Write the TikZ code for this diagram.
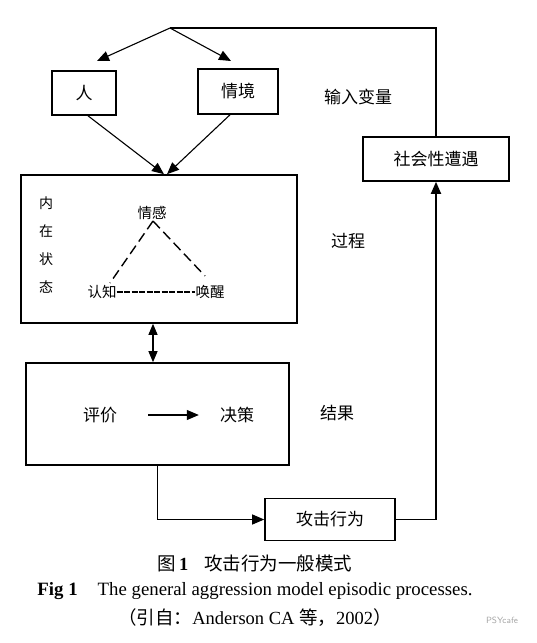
\documentclass[tikz,border=0pt]{standalone}
\usepackage{fontspec}
\setmainfont{Liberation Serif}
\newfontfamily\cjk{Noto Sans CJK SC}
\usetikzlibrary{arrows.meta,calc}

\begin{document}
\begin{tikzpicture}[x=1pt,y=-1pt,
  box/.style={draw,line width=1.6pt,inner sep=0pt,font=\cjk\fontsize{17}{17}\selectfont},
  lbl/.style={inner sep=0pt,font=\cjk\fontsize{17}{17}\selectfont},
  small/.style={inner sep=0pt,font=\cjk\fontsize{14.5}{14.5}\selectfont},
  arr/.style={line width=1.1pt,-{Triangle[length=12pt,width=10pt]}},
  both/.style={line width=1.1pt,{Triangle[length=11pt,width=9pt]}-{Triangle[length=11pt,width=9pt]}},
  tri/.style={line width=1.4pt,dash pattern=on 10pt off 5pt},
  dots/.style={line width=2pt,dash pattern=on 6pt off 1.5pt}]
\useasboundingbox (0,0) rectangle (537,643);

% input variables
\coordinate (fen) at (170,28);
\coordinate (renin) at (97,61);
\coordinate (qjin) at (231,61);
\node[box,minimum width=64pt,minimum height=44pt] (ren) at (84,93) {人};
\node[box,minimum width=80pt,minimum height=45pt] (qingjing) at (238,91.5) {情境};
\node[lbl] (shuru) at (358,97) {输入变量};
\node[box,minimum width=146pt,minimum height=44pt] (shehui) at (436,159) {社会性遭遇};

% process
\node[box,minimum width=276pt,minimum height=148pt] (neizai) at (159,249) {};
\node[small,align=center,font=\cjk\fontsize{14}{28}\selectfont] (zhuangtai) at (46,245) {内\\在\\状\\态};
\node[small] (qinggan) at (152,213) {情感};
\node[small] (renzhi) at (102,292) {认知};
\node[small] (huanxing) at (210,292) {唤醒};
\coordinate (tq) at (153,221);
\coordinate (tr) at (110,283);
\coordinate (th) at (205,276);
\node[lbl] (guocheng) at (348,241) {过程};

% outcomes
\node[box,minimum width=263pt,minimum height=102pt] (jieguo) at (157.5,414) {};
\node[lbl] (pingjia) at (100,415) {评价};
\node[lbl] (juece) at (237,415) {决策};
\node[lbl] (jg) at (337,413) {结果};
\node[box,minimum width=130pt,minimum height=42pt] (gongji) at (330,519.5) {攻击行为};

\draw[line width=1.3pt] (fen) -| (shehui.north);
\draw[arr] (fen) -- (renin);
\draw[arr] (fen) -- (qjin);
\draw[arr] ([xshift=4pt]ren.south) -- ([xshift=5pt]neizai.north);
\draw[arr] ([xshift=-8pt]qingjing.south) -- ([xshift=8pt]neizai.north);
\draw[tri] (tq) -- (tr);
\draw[tri] (tq) -- (th);
\draw[dots] (renzhi.east) -- (huanxing.west);
\draw[both] ([xshift=-6pt]neizai.south) -- ([xshift=-6pt]neizai.south |- jieguo.north);
\draw[arr] ([xshift=31pt]pingjia.east) -- ([xshift=-21pt]juece.west);
\draw[arr] (jieguo.south) |- (gongji.west);
\draw[arr,line width=1.8pt] (gongji.east) -| (shehui.south);

% caption
\node[inner sep=0pt,font=\fontsize{18.5}{18.5}\selectfont] (tu) at (255,563) {{\cjk 图}\,\textbf{1}\hspace{16pt}{\cjk 攻击行为一般模式}};
\node[inner sep=0pt,font=\fontsize{18.8}{18.8}\selectfont] (fig) at (255,591) {\textbf{Fig 1}\hspace{20pt}The general aggression model episodic processes.};
\node[inner sep=0pt,font=\fontsize{18.5}{18.5}\selectfont] (yin) at (255,618) {{\cjk （引自：}Anderson CA {\cjk 等，}2002{\cjk ）}};
\node[inner sep=0pt,text=black!35,font=\sffamily\fontsize{9}{9}\selectfont] (psy) at (502,620) {PSYcafe};
\end{tikzpicture}
\end{document}
